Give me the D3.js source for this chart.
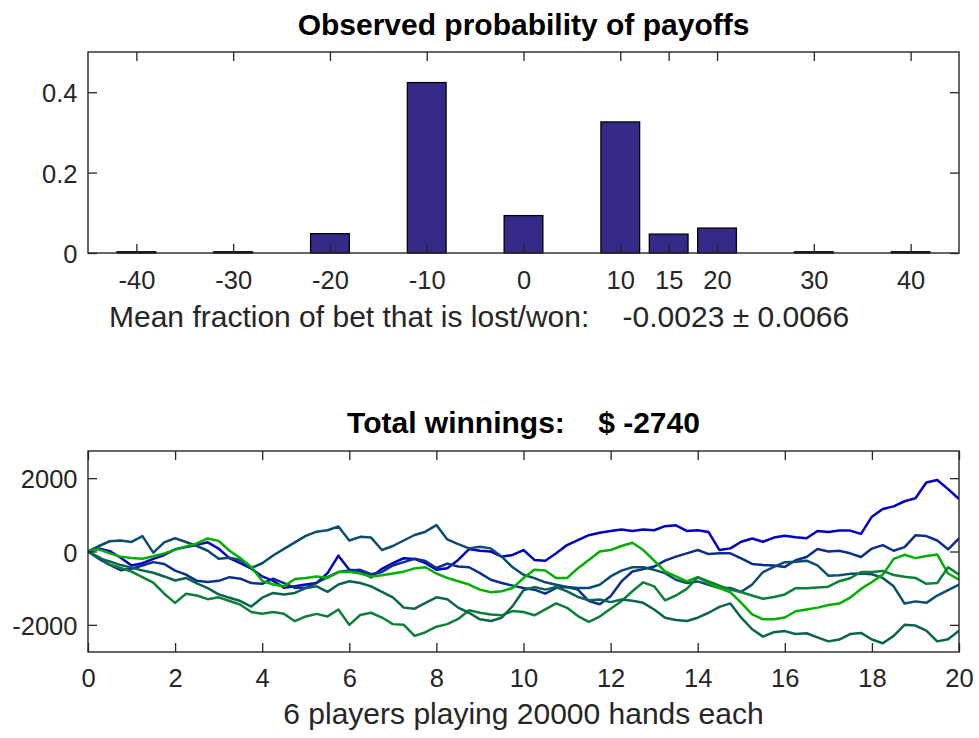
<!DOCTYPE html>
<html>
<head>
<meta charset="utf-8">
<script src="https://cdn.jsdelivr.net/npm/d3@7"></script>
<style>
  html, body { margin: 0; padding: 0; background: #ffffff; }
  svg { display: block; font-family: "Liberation Sans", Arial, Helvetica, sans-serif; }
</style>
</head>
<body>
<svg id="fig" width="979" height="738"></svg>
<script>
// ---- payoff histogram ----
const payoffs     = [-40, -30, -20, -10, 0, 10, 15, 20, 30, 40];
const probability = [0.003, 0.003, 0.048, 0.424, 0.093, 0.326, 0.047, 0.062, 0.003, 0.003];
const payoffTicks = [-40, -30, -20, -10, 0, 10, 15, 20, 30, 40];
const probTicks   = [0, 0.2, 0.4];
const meanText    = "Mean fraction of bet that is lost/won:    -0.0023 \u00B1 0.0066";

// ---- running winnings of each player (sampled every 250 hands) ----
const handStep  = 0.25;               // thousands of hands between samples
const handTicks = [0, 2, 4, 6, 8, 10, 12, 14, 16, 18, 20];
const winTicks  = [-2000, 0, 2000];
const totalWinnings = -2740;
const playersText = "6 players playing 20000 hands each";

const player1 = [0, 85, 10, -170, -380, -320, -200, -94, 60, 120, 180, 250, 80, -180, -320, -470,
  -680, -800, -990, -950, -900, -858, -588, -113, -499, -526, -705, -472, -319, -184, -202, -319,
  -499, -454, -229, 67, 20, 0, -140, -95, 40, -230, -250, -50, 175, 310, 445, 510,
  560, 600, 560, 600, 580, 690, 715, 560, 580, 530, 40, 85, 265, 355, 265, 380,
  430, 390, 360, 560, 530, 570, 570, 480, 950, 1160, 1230, 1370, 1450, 1880, 1950, 1700, 1430];
const player2 = [0, -200, -364, -510, -470, -380, -290, -340, -520, -630, -800, -830, -800, -700, -740, -860,
  -880, -740, -860, -990, -990, -850, -700, -560, -520, -500, -620, -560, -380, -290, -200, -260,
  -450, -330, -410, -430, -590, -770, -860, -930, -995, -1040, -1150, -995, -970, -1040, -1350, -1440,
  -1220, -815, -545, -480, -410, -250, -140, -50, 40, -70, -50, -50, -185, -340, -365, -380,
  -420, -240, -150, 70, 0, 20, -50, -150, 80, 175, 20, 120, 440, 420, 300, 60, 355];
const player3 = [0, 150, 280, 300, 260, 420, -30, 250, 360, 260, 150, 20, -200, -170, -230, -450,
  -320, -110, 70, 250, 425, 540, 580, 680, 300, 400, 380, 40, 150, 300, 450, 540,
  720, 330, 200, 85, 130, 85, -140, -430, -635, -725, -840, -905, -970, -995, -995, -905,
  -680, -520, -430, -430, -500, -590, -770, -860, -815, -905, -995, -995, -1100, -900, -560, -420,
  -290, -280, -250, -380, -660, -650, -610, -600, -620, -720, -950, -1420, -1360, -1400, -1200, -1050, -900];
const player4 = [0, 60, -50, -140, -180, -200, -130, -50, 50, 140, 220, 355, 290, 20, -180, -420,
  -800, -900, -950, -750, -720, -680, -720, -560, -550, -600, -680, -650, -600, -550, -460, -430,
  -600, -720, -810, -900, -1040, -1110, -1085, -995, -725, -500, -520, -725, -725, -455, -230, 0,
  40, 150, 240, 40, -250, -545, -680, -815, -700, -860, -995, -1110, -1400, -1715, -1850, -1850,
  -1800, -1630, -1580, -1530, -1460, -1420, -1260, -1020, -830, -630, -200, -90, -180, -120, -80, -600, -770];
const player5 = [0, -150, -350, -450, -550, -700, -850, -1150, -1400, -1150, -1200, -1300, -1250, -1350, -1450, -1650,
  -1700, -1650, -1700, -1900, -1770, -1700, -1770, -1580, -2000, -1730, -1670, -1800, -1980, -2000, -2300, -2200,
  -2050, -1980, -1840, -1600, -1670, -1715, -1740, -1625, -1650, -1740, -1580, -1415, -1535, -1760, -1920, -1775,
  -1560, -1355, -1085, -840, -950, -1330, -1200, -1020, -700, -815, -930, -1040, -1110, -1200, -1290, -1240,
  -1170, -1000, -1000, -980, -960, -810, -730, -560, -560, -530, -640, -690, -720, -880, -860, -430, -630];
const player6 = [0, -180, -270, -370, -440, -520, -580, -680, -790, -720, -870, -1000, -1170, -1260, -1350, -1500,
  -1260, -1130, -1170, -1130, -1000, -950, -1100, -900, -810, -860, -950, -1100, -1250, -1530, -1560, -1400,
  -1250, -1300, -1530, -1670, -1850, -1895, -1805, -1490, -1055, -970, -1040, -970, -1085, -1240, -1330, -1310,
  -1380, -1310, -1345, -1400, -1580, -1805, -1870, -1895, -1805, -1670, -1510, -1415, -1805, -2120, -2320, -2200,
  -2170, -2250, -2230, -2340, -2450, -2400, -2250, -2220, -2400, -2500, -2300, -2000, -2020, -2160, -2450, -2390, -2160];
const players      = [player1, player2, player3, player4, player5, player6];
const playerColors = ["#0000c4", "#0c2e8e", "#0b4d6e", "#00b000", "#0c8038", "#0a6450"];

// ---- styling ----
const axisColor = "#262626";
const tickFont = 25.5, labelFont = 30, titleFont = 30;
const tickLen = 9;

const svg = d3.select("#fig");

function frame(g, w, h) {
  g.append("rect").attr("x", 0).attr("y", 0).attr("width", w).attr("height", h)
    .attr("fill", "none").attr("stroke", axisColor).attr("stroke-width", 1.4);
}

function styleAxis(sel, showText) {
  sel.select(".domain").remove();
  sel.selectAll(".tick line").attr("stroke", axisColor).attr("stroke-width", 1.3);
  sel.selectAll(".tick text").attr("font-size", tickFont).attr("fill", axisColor)
    .style("display", showText ? null : "none");
}

function drawAxes(g, x, y, w, h, xTicks, yTicks, yFmt, xLabelY) {
  const bottom = g.append("g").attr("transform", `translate(0,${h})`)
    .call(d3.axisBottom(x).tickValues(xTicks).tickSizeInner(-tickLen).tickSizeOuter(0).tickFormat(d => String(d)));
  styleAxis(bottom, true);
  bottom.selectAll(".tick text").attr("y", xLabelY).attr("dy", 0);

  const top = g.append("g")
    .call(d3.axisTop(x).tickValues(xTicks).tickSizeInner(-tickLen).tickSizeOuter(0).tickFormat(""));
  styleAxis(top, false);

  const left = g.append("g")
    .call(d3.axisLeft(y).tickValues(yTicks).tickSizeInner(-tickLen).tickSizeOuter(0).tickFormat(yFmt));
  styleAxis(left, true);
  left.selectAll(".tick text").attr("x", -10.5).attr("dy", "0.38em");

  const right = g.append("g").attr("transform", `translate(${w},0)`)
    .call(d3.axisRight(y).tickValues(yTicks).tickSizeInner(-tickLen).tickSizeOuter(0).tickFormat(""));
  styleAxis(right, false);

  frame(g, w, h);
}

// ================= top panel: payoff probabilities =================
const P1 = { left: 88, top: 52, width: 871, height: 201 };
const g1 = svg.append("g").attr("transform", `translate(${P1.left},${P1.top})`);

const xPay = d3.scaleLinear().domain([-45, 45]).range([0, P1.width]);
const yProb = d3.scaleLinear().domain([0, 0.5]).range([P1.height, 0]);
const barWidth = 4; // in payoff units

g1.selectAll("rect.bar")
  .data(payoffs.map((p, i) => ({ p, v: probability[i] })))
  .join("rect")
  .attr("class", "bar")
  .attr("x", d => xPay(d.p - barWidth / 2))
  .attr("width", d => xPay(d.p + barWidth / 2) - xPay(d.p - barWidth / 2))
  .attr("y", d => yProb(d.v))
  .attr("height", d => yProb(0) - yProb(d.v))
  .attr("fill", "#352a87")
  .attr("stroke", "#000000")
  .attr("stroke-width", 1.3);

drawAxes(g1, xPay, yProb, P1.width, P1.height, payoffTicks, probTicks,
  d => d === 0 ? "0" : d.toFixed(1), 35.5);

svg.append("text")
  .attr("x", P1.left + P1.width / 2).attr("y", 35)
  .attr("text-anchor", "middle").attr("font-size", titleFont).attr("font-weight", "bold")
  .attr("fill", "#000").text("Observed probability of payoffs");

svg.append("text")
  .attr("x", 109).attr("y", 327)
  .attr("font-size", labelFont).attr("fill", axisColor)
  .style("white-space", "pre").text(meanText);

// ================= bottom panel: running winnings =================
const P2 = { left: 88, top: 451, width: 871, height: 201 };
const g2 = svg.append("g").attr("transform", `translate(${P2.left},${P2.top})`);

const xHands = d3.scaleLinear().domain([0, 20]).range([0, P2.width]);
const yWin = d3.scaleLinear().domain([totalWinnings, -totalWinnings]).range([P2.height, 0]);

g2.append("clipPath").attr("id", "plotClip")
  .append("rect").attr("width", P2.width).attr("height", P2.height);

const line = d3.line()
  .x((d, i) => xHands(i * handStep))
  .y(d => yWin(d));

g2.append("g").attr("clip-path", "url(#plotClip)")
  .selectAll("path.walk")
  .data(players)
  .join("path")
  .attr("class", "walk")
  .attr("d", line)
  .attr("fill", "none")
  .attr("stroke", (d, i) => playerColors[i])
  .attr("stroke-width", 2.5)
  .attr("stroke-linejoin", "round");

drawAxes(g2, xHands, yWin, P2.width, P2.height, handTicks, winTicks, d => String(d), 35);

svg.append("text")
  .attr("x", P2.left + P2.width / 2).attr("y", 433)
  .attr("text-anchor", "middle").attr("font-size", titleFont).attr("font-weight", "bold")
  .attr("fill", "#000").style("white-space", "pre")
  .text(`Total winnings:    $ ${totalWinnings}`);

svg.append("text")
  .attr("x", P2.left + P2.width / 2).attr("y", 724)
  .attr("text-anchor", "middle").attr("font-size", labelFont).attr("fill", axisColor)
  .text(playersText);
</script>
</body>
</html>
